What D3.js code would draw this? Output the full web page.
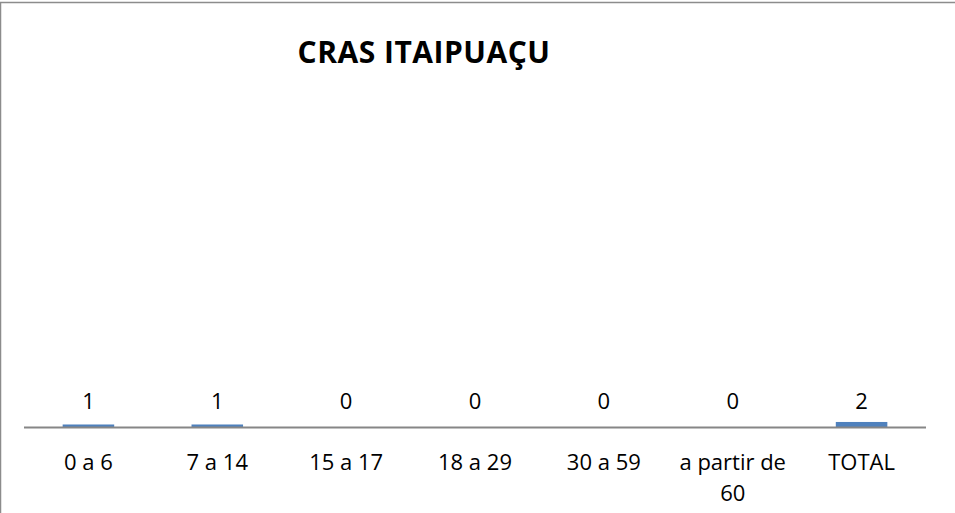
<!DOCTYPE html>
<html>
<head>
<meta charset="utf-8">
<script src="https://cdn.jsdelivr.net/npm/d3@7"></script>
<style>
  body { margin: 0; background: #fff; }
  text { font-family: "Open Sans", "Liberation Sans", sans-serif; }
</style>
</head>
<body>
<div id="chart"></div>
<script>
// data
var categories = ["0 a 6", "7 a 14", "15 a 17", "18 a 29", "30 a 59", "a partir de 60", "TOTAL"];
var labelLines = [["0 a 6"], ["7 a 14"], ["15 a 17"], ["18 a 29"], ["30 a 59"], ["a partir de", "60"], ["TOTAL"]];
var values = [1, 1, 0, 0, 0, 0, 2];
var chartTitle = "CRAS ITAIPUAÇU";

var width = 955, height = 513;
var margin = {top: 90, right: 29, bottom: 86, left: 24};

var svg = d3.select("#chart").append("svg")
    .attr("width", width)
    .attr("height", height);

// outer border of the chart area
svg.append("rect")
    .attr("x", 0.5).attr("y", 2.5)
    .attr("width", width + 10).attr("height", height + 10)
    .attr("fill", "none")
    .attr("stroke", "#8c8c8c")
    .attr("stroke-width", 1.5);

var x = d3.scaleBand()
    .domain(categories)
    .range([margin.left, width - margin.right])
    .paddingInner(0.6)
    .paddingOuter(0.3);

var y = d3.scaleLinear()
    .domain([0, 134])
    .range([height - margin.bottom, margin.top]);

var g = svg.append("g");

// bars
g.selectAll(".bar")
    .data(values)
  .enter().append("rect")
    .attr("class", "bar")
    .attr("x", function(d, i) { return x(categories[i]); })
    .attr("y", function(d) { return y(d); })
    .attr("width", x.bandwidth())
    .attr("height", function(d) { return y(0) - y(d); })
    .attr("fill", "#4f81bd");

// axis line
g.append("line")
    .attr("x1", margin.left).attr("x2", width - margin.right)
    .attr("y1", y(0) + 0.5).attr("y2", y(0) + 0.5)
    .attr("stroke", "#868686")
    .attr("stroke-width", 2);

// value labels
g.selectAll(".val")
    .data(values)
  .enter().append("text")
    .attr("class", "val")
    .attr("x", function(d, i) { return x(categories[i]) + x.bandwidth() / 2; })
    .attr("y", y(0) - 18)
    .attr("text-anchor", "middle")
    .attr("font-size", 22)
    .attr("fill", "#000")
    .text(function(d) { return d; });

// category labels
var cat = g.selectAll(".cat")
    .data(categories)
  .enter().append("text")
    .attr("class", "cat")
    .attr("x", function(d) { return x(d) + x.bandwidth() / 2; })
    .attr("y", y(0) + 43)
    .attr("text-anchor", "middle")
    .attr("font-size", 22)
    .attr("fill", "#000");
cat.selectAll("tspan")
    .data(function(d, i) { return labelLines[i]; })
  .enter().append("tspan")
    .attr("x", function() { return d3.select(this.parentNode).attr("x"); })
    .attr("dy", function(d, i) { return i === 0 ? 0 : 31; })
    .text(function(d) { return d; });

// title
svg.append("text")
    .attr("x", 424)
    .attr("y", 63)
    .attr("text-anchor", "middle")
    .attr("font-size", 30)
    .attr("font-weight", "bold")
    .attr("letter-spacing", 0.5)
    .attr("fill", "#000")
    .text(chartTitle);
</script>
</body>
</html>
